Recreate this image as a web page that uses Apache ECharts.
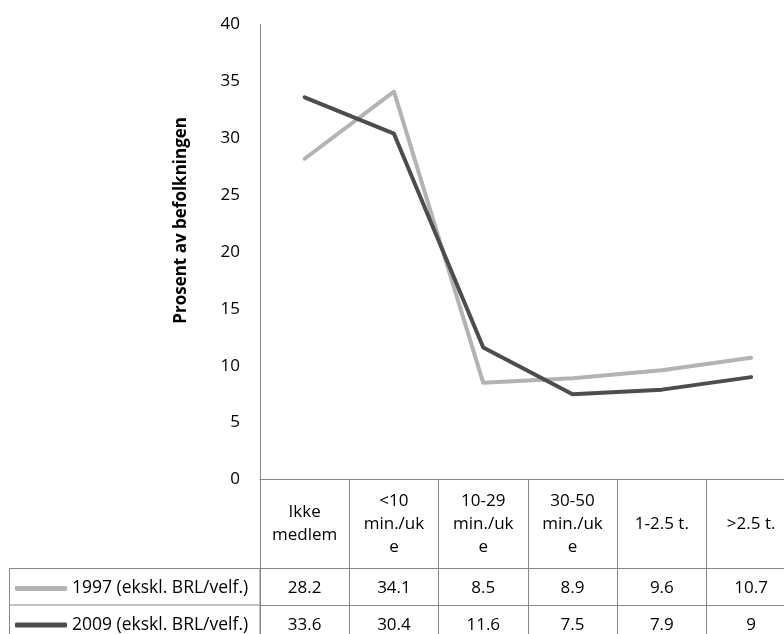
<!DOCTYPE html>
<html>
<head>
<meta charset="utf-8">
<script src="https://cdn.jsdelivr.net/npm/echarts@6/dist/echarts.min.js"></script>
<style>
html,body{margin:0;padding:0;background:#fff;}
#c{width:784px;height:634px;}
</style>
</head>
<body>
<div id="c"></div>
<script>
var categories = ['Ikke\nmedlem', '<10\nmin./uk\ne', '10-29\nmin./uk\ne', '30-50\nmin./uk\ne', '1-2.5 t.', '>2.5 t.'];
var seriesNames = ['1997 (ekskl. BRL/velf.)', '2009 (ekskl. BRL/velf.)'];
var values1997 = [28.2, 34.1, 8.5, 8.9, 9.6, 10.7];
var values2009 = [33.6, 30.4, 11.6, 7.5, 7.9, 9];
var yTicks = {min: 0, max: 40, interval: 5};
var yTitle = 'Prosent av befolkningen';

var FONT = 'Open Sans';
var AX = '#878787';
var chart = echarts.init(document.getElementById('c'), null, {renderer: 'canvas'});

var gridTop = 24.5, gridH = 455, gridLeft = 260, colW = 89.3;
var gridBottomY = gridTop + gridH;
var headerH = 89, rowH = 36.5;

function tableAxis(vals, offset) {
  return {
    type: 'category', gridIndex: 0, position: 'bottom', offset: offset,
    data: vals.map(function (v) { return String(v); }),
    boundaryGap: true,
    axisLine: {show: true, lineStyle: {color: AX, width: 1}},
    axisTick: {show: false},
    axisLabel: {interval: 0, color: '#000', fontFamily: FONT, fontSize: 17, verticalAlign: 'middle', margin: rowH / 2 + 1.5}
  };
}

chart.setOption({
  animation: false,
  backgroundColor: '#fff',
  grid: {left: gridLeft, top: gridTop, width: colW * 6, height: gridH, containLabel: false, outerBoundsMode: 'none'},
  xAxis: [
    {
      type: 'category', gridIndex: 0, position: 'bottom', data: categories, boundaryGap: true,
      axisLine: {show: true, lineStyle: {color: AX, width: 1}},
      axisTick: {show: true, interval: 0, length: 170, lineStyle: {color: AX, width: 1}},
      axisLabel: {interval: 0, color: '#000', fontFamily: FONT, fontSize: 17, lineHeight: 23, align: 'center', verticalAlign: 'middle', margin: headerH / 2}
    },
    tableAxis(values1997, headerH),
    tableAxis(values2009, headerH + rowH)
  ],
  yAxis: {
    type: 'value', min: yTicks.min, max: yTicks.max, interval: yTicks.interval,
    axisLine: {show: true, lineStyle: {color: AX, width: 1}},
    axisTick: {show: false},
    splitLine: {show: false},
    axisLabel: {color: '#000', fontFamily: FONT, fontSize: 17, margin: 20}
  },
  legend: {
    orient: 'vertical', left: 15, top: gridBottomY + headerH + 10, padding: 0, height: 120,
    itemWidth: 52, itemHeight: 5, itemGap: 16.5, icon: 'roundRect',
    textStyle: {color: '#000', fontFamily: FONT, fontSize: 17.5, lineHeight: 20},
    data: seriesNames
  },
  graphic: [
    {type: 'text', left: 173, top: 117, rotation: Math.PI / 2, style: {text: yTitle, fontFamily: FONT, fontSize: 17, fontWeight: 'bold', fill: '#000'}},
    {type: 'rect', shape: {x: 9.5, y: gridBottomY + headerH, width: gridLeft - 9.5, height: 2 * rowH + 20}, style: {fill: 'none', stroke: AX, lineWidth: 1}, silent: true},
    {type: 'line', shape: {x1: 9.5, y1: gridBottomY + headerH + rowH, x2: gridLeft, y2: gridBottomY + headerH + rowH}, style: {stroke: AX, lineWidth: 1}, silent: true}
  ],
  series: [
    {name: seriesNames[0], type: 'line', data: values1997, symbol: 'none', color: '#b3b3b3', lineStyle: {width: 4, color: '#b3b3b3', cap: 'round', join: 'round'}},
    {name: seriesNames[1], type: 'line', data: values2009, symbol: 'none', color: '#4d4d4d', lineStyle: {width: 4, color: '#4d4d4d', cap: 'round', join: 'round'}}
  ]
});
</script>
</body>
</html>
